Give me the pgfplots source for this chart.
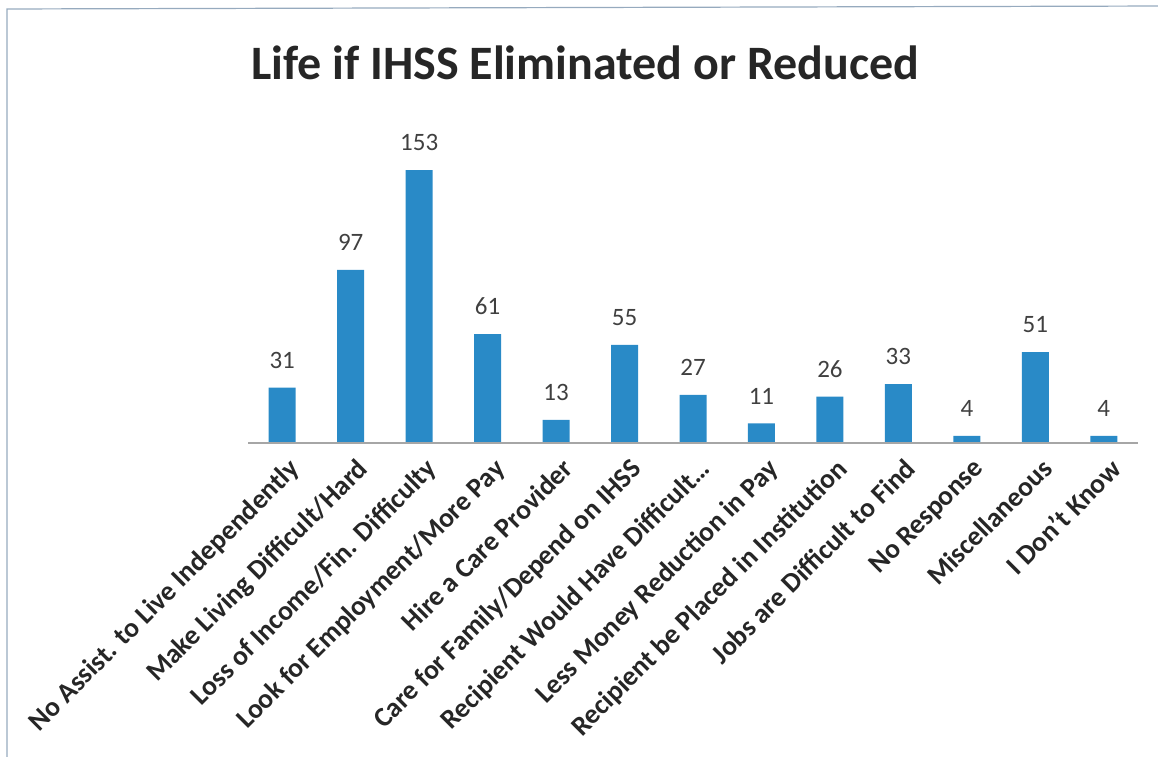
\documentclass[border=0pt]{standalone}
\usepackage{pgfplots}
\pgfplotsset{compat=1.18}
\usepackage{fontspec}
\setmainfont{Carlito}
\definecolor{barblue}{RGB}{41,138,199}
\definecolor{valgray}{RGB}{64,64,64}
\definecolor{framecol}{RGB}{150,170,190}
\begin{document}
\begin{tikzpicture}
\useasboundingbox (0,0) rectangle (579bp,378.5bp);
\draw[framecol, line width=0.6bp] (3.5bp,-2bp) -- (3.5bp,374bp) -- (585bp,375.5bp);
\node[font=\fontsize{24bp}{28bp}\selectfont\bfseries, text=black!85] at (292.5bp,347bp) {Life if IHSS Eliminated or Reduced};
\begin{axis}[
  at={(124bp,157bp)}, anchor=south west,
  scale only axis, width=445bp, height=151.6bp,
  xmin=-0.5, xmax=12.5, ymin=0, ymax=170,
  axis x line=bottom, axis y line=none,
  x axis line style={draw=none, -},
  ybar, bar width=13.5bp,
  xtick=data,
  xticklabels={No Assist. to Live Independently, Make Living Difficult/Hard, Loss of Income/Fin. Difficulty, Look for Employment/More Pay, Hire a Care Provider, Care for Family/Depend on IHSS, Recipient Would Have Difficult\ldots, Less Money Reduction in Pay, Recipient be Placed in Institution, Jobs are Difficult to Find, No Response, Miscellaneous, I Don't Know},
  x tick label style={rotate=45, anchor=north east, font=\fontsize{13.8bp}{16bp}\selectfont\bfseries, text=black!85, inner sep=1bp, yshift=-5.5bp, xshift=-2bp},
  major tick length=0pt,
  ytick=\empty,
  nodes near coords,
  every node near coord/.append style={font=\fontsize{12.5bp}{14bp}\selectfont, text=valgray, yshift=6bp, /pgf/number format/assume math mode=true},
  clip=false,
]
\addplot[fill=barblue, draw=none] coordinates {(0,31) (1,97) (2,153) (3,61) (4,13) (5,55) (6,27) (7,11) (8,26) (9,33) (10,4) (11,51) (12,4)};
\draw[gray!70, line width=0.6bp] (axis cs:-0.5,0) -- (axis cs:12.5,0);
\end{axis}
\end{tikzpicture}
\end{document}
